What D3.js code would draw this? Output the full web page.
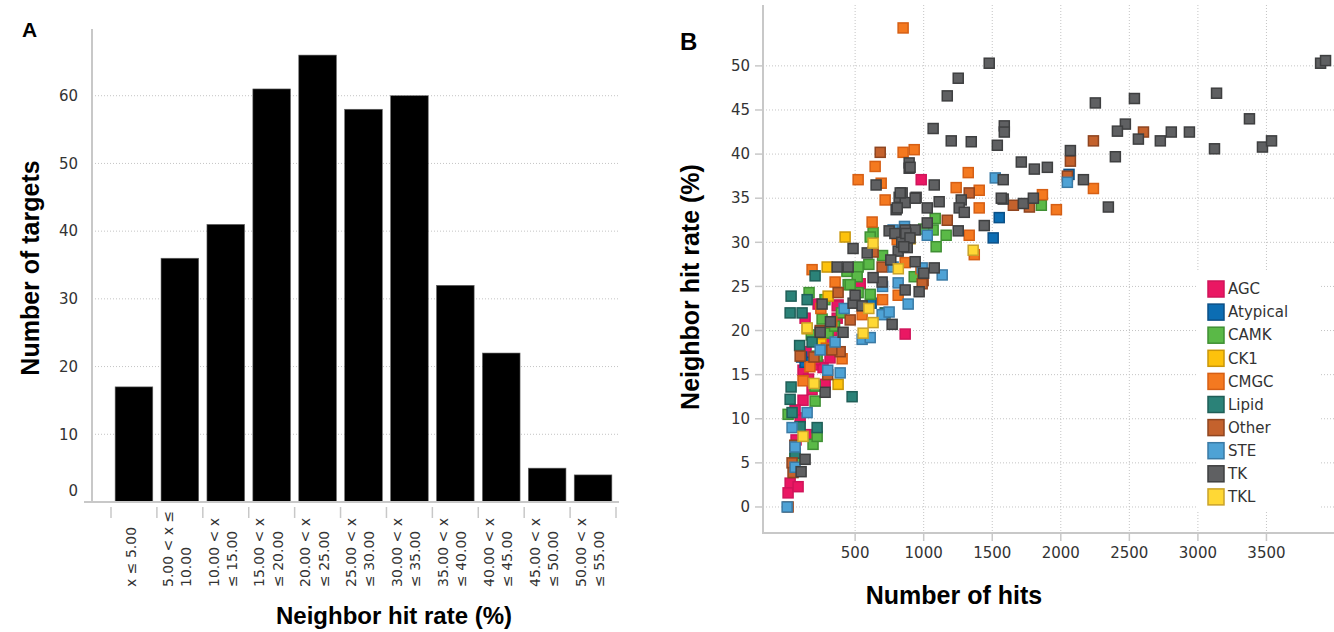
<!DOCTYPE html>
<html>
<head>
<meta charset="utf-8">
<script src="https://cdn.jsdelivr.net/npm/d3@7"></script>
<style>
  body { margin: 0; background: #fff; }
  text { font-family: "DejaVu Sans", sans-serif; }
  .title { font-family: "Liberation Sans", Arial, sans-serif; font-weight: bold; fill: #000; }
  .tick-label { font-size: 15px; fill: #333; }
  .bin-label { font-size: 14px; fill: #333; }
</style>
</head>
<body>
<div id="chart"></div>
<script>
// ---- panel A data: histogram of neighbor hit rate
bins = ["x ≤ 5.00", "5.00 < x ≤\n10.00", "10.00 < x\n≤ 15.00", "15.00 < x\n≤ 20.00", "20.00 < x\n≤ 25.00",
  "25.00 < x\n≤ 30.00", "30.00 < x\n≤ 35.00", "35.00 < x\n≤ 40.00", "40.00 < x\n≤ 45.00", "45.00 < x\n≤ 50.00", "50.00 < x\n≤ 55.00"]
counts = [17, 36, 41, 61, 66, 58, 60, 32, 22, 5, 4]
countTicks = [0, 10, 20, 30, 40, 50, 60]

// ---- panel B data: [number of hits, neighbor hit rate %] per kinase group
agc = [[982,37.1],[376,22.9],[135,21.4],[369,22.8],[369,21.4],[865,19.6],[230,16.1],[120,15.5],[266,15.8],[281,13.9],
  [120,12.1],[99,10.1],[172,8.2],[26,2.7],[11,1.6],[84,2.3],[537,25.3],[186,13.3],[142,17.6],[208,16.7],[317,16.9],
  [62,11.0],[69,7.6],[300,19.0],[160,14.5],[230,23.0],[330,20.0]]
atypical = [[617,23.1],[1507,30.5],[1551,32.8],[135,16.4],[2060,37.7],[110,17.0]]
camk = [[1164,30.8],[1091,29.5],[1069,31.4],[1084,32.7],[631,31.1],[931,26.1],[522,27.2],[515,26.1],[449,25.2],[164,24.3],
  [522,24.3],[610,24.1],[1858,34.2],[259,21.3],[303,19.7],[223,17.1],[208,13.7],[208,12.0],[11,10.5],[193,7.1],[223,8.0],
  [464,25.2],[610,30.6],[1000,31.5],[440,26.7],[600,27.5],[60,5.5],[350,20.5],[400,22.0],[700,28.5],[280,23.5],[180,19.5]]
ck1 = [[427,30.6],[296,27.2],[303,23.9],[376,13.9],[150,20.2],[250,18.5],[901,30.4]]
cmgc = [[850,54.3],[850,40.2],[931,40.5],[646,38.6],[522,37.1],[690,36.7],[1237,36.2],[1325,37.9],[1405,35.9],[719,34.8],
  [1405,33.9],[624,32.3],[1332,30.8],[1369,28.6],[807,30.3],[865,27.7],[814,24.0],[186,26.9],[354,25.5],[1866,35.4],
  [2238,36.1],[1968,33.7],[551,21.8],[405,16.8],[120,14.3],[170,15.9],[250,22.5],[700,23.5],[980,27.0],[290,18.0],[330,21.0]]
lipid = [[208,26.2],[33,23.9],[26,22.0],[113,22.0],[186,18.7],[478,12.5],[33,13.6],[26,12.2],[40,10.7],[99,9.1],
  [223,9.0],[62,6.1],[719,22.0],[95,18.3],[150,23.5]]
other = [[683,40.2],[1332,35.6],[1172,32.5],[697,27.2],[996,25.7],[376,24.3],[631,28.9],[464,21.2],[99,17.1],[391,17.6],
  [40,5.0],[47,3.9],[11,0],[2603,42.5],[2238,41.5],[2070,39.2],[2048,37.5],[1654,34.2],[1771,34.0],[989,25.3],
  [245,20.0],[300,15.0],[60,7.0],[200,17.0],[330,17.8]]
ste = [[1522,37.3],[1026,30.8],[1135,26.3],[777,27.2],[814,25.4],[697,21.8],[748,22.1],[777,31.4],[989,27.1],[887,23.0],
  [551,19.0],[610,19.2],[354,18.7],[245,17.8],[391,15.2],[150,10.7],[40,9.0],[62,6.8],[62,4.5],[4,0],[2048,36.8],
  [860,31.8],[700,25.0],[300,15.5],[420,22.5]]
tk = [[1478,50.3],[1252,48.6],[1172,46.6],[1069,42.9],[1201,41.5],[1347,41.4],[1537,41.0],[894,39.0],[894,38.4],[1077,36.5],
  [653,36.5],[843,35.6],[821,35.1],[945,35.1],[1113,34.6],[799,33.7],[865,34.5],[1026,33.9],[1274,34.8],[1259,33.9],
  [1296,33.4],[1026,32.2],[1442,31.9],[1252,31.3],[938,31.4],[865,31.4],[814,29.0],[880,29.4],[748,31.3],[588,28.8],
  [938,27.8],[1077,27.1],[697,25.5],[865,24.6],[967,24.4],[369,27.2],[449,27.2],[631,26.0],[259,23.0],[485,23.1],
  [551,22.8],[485,29.3],[3895,50.3],[3931,50.6],[3136,46.9],[2537,46.3],[2252,45.8],[3376,44.0],[2471,43.4],[2413,42.6],
  [2566,41.7],[2726,41.5],[2806,42.5],[2938,42.5],[3121,40.6],[3471,40.8],[3537,41.5],[2070,40.4],[2398,39.7],[1712,39.1],
  [1807,38.3],[1902,38.5],[1580,37.1],[2165,37.1],[2347,34.0],[1580,34.9],[1727,34.4],[1800,35.0],[1588,43.2],[1588,42.5],
  [245,19.8],[412,19.8],[770,20.7],[281,13.0],[135,5.4],[106,4.0],[829,35.6],[901,38.5],[1566,35.0],[938,35.0],
  [807,33.9],[790,31.0],[840,30.0],[870,31.0],[900,30.5],[855,29.5],[760,28.0],[1000,26.5],[320,21.0],[500,24.0]]
tkl = [[631,29.9],[631,20.9],[558,19.7],[120,8.0],[1361,29.1],[150,20.3],[815,27.0],[200,14.0],[600,22.5]]

groups = ["AGC", "Atypical", "CAMK", "CK1", "CMGC", "Lipid", "Other", "STE", "TK", "TKL"]
groupData = [agc, atypical, camk, ck1, cmgc, lipid, other, ste, tk, tkl]
groupFill = ["#ea1763", "#0c6db3", "#5ab947", "#fdc20c", "#f47920", "#2b8278", "#c4622d", "#4ea2d5", "#5f6062", "#ffd835"]
groupStroke = ["#d0145a", "#0a4f86", "#3f8f33", "#c9960a", "#d65f14", "#1f5e57", "#8f4520", "#3a7aa5", "#3e3f40", "#c9a22a"]
hitTicks = [500, 1000, 1500, 2000, 2500, 3000, 3500]
rateTicks = [0, 5, 10, 15, 20, 25, 30, 35, 40, 45, 50]

svg = d3.select("#chart").append("svg")
  .attr("width", 1334)
  .attr("height", 632)

gridColor = "#c4c4c4"
axisColor = "#c8c8c8"

// ================= Panel A =================
xA = d3.scaleBand().domain(bins).range([111, 616]).padding(0)
yA = d3.scaleLinear().domain([0, 70]).range([502, 28])

gA = svg.append("g")

// gridlines
gA.selectAll(".gridA")
  .data(countTicks.filter(d => d > 0))
  .join("line")
    .attr("x1", 92).attr("x2", 618)
    .attr("y1", d => yA(d)).attr("y2", d => yA(d))
    .style("stroke", gridColor)
    .style("stroke-width", 1)
    .style("stroke-dasharray", "1,2")

// bars
gA.selectAll(".bar")
  .data(counts)
  .join("rect")
    .attr("x", (d, i) => xA(bins[i]) + xA.bandwidth() * 0.09)
    .attr("width", xA.bandwidth() * 0.82)
    .attr("y", d => yA(d))
    .attr("height", d => yA(0) - yA(d))
    .style("fill", "#000")
    .style("stroke", "#666")
    .style("stroke-width", 0.6)

// axes lines
gA.append("line").attr("x1", 92).attr("x2", 92).attr("y1", 29).attr("y2", 502)
  .style("stroke", axisColor).style("stroke-width", 2)
gA.append("line").attr("x1", 84).attr("x2", 619).attr("y1", 502).attr("y2", 502)
  .style("stroke", axisColor).style("stroke-width", 2)

// x ticks at band boundaries
boundaries = bins.map(b => xA(b)).concat([xA.range()[1]])
gA.selectAll(".tickA")
  .data(boundaries)
  .join("line")
    .attr("x1", d => d).attr("x2", d => d)
    .attr("y1", 507).attr("y2", 518)
    .style("stroke", axisColor).style("stroke-width", 1.5)

// y tick labels
gA.selectAll(".ylabA")
  .data(countTicks)
  .join("text")
    .attr("class", "tick-label")
    .attr("x", 78)
    .attr("y", d => yA(d) - (d === 0 ? 11 : 0))
    .attr("dy", "0.35em")
    .attr("text-anchor", "end")
    .text(d => d)

// x tick labels (rotated, wrapped)
lab = gA.selectAll(".xlabA")
  .data(bins)
  .join("text")
    .attr("class", "bin-label")
    .attr("transform", d => `translate(${xA(d) + xA.bandwidth() / 2 - 3}, 587) rotate(-90)`)
    .attr("text-anchor", "start")
lab.each(function(d) {
  lines = d.split("\n")
  t = d3.select(this)
  lines.forEach((ln, k) => {
    t.append("tspan")
      .attr("x", 0)
      .attr("dy", k === 0 ? ((-(lines.length - 1) / 2) * 1.3 + 0.35) + "em" : "1.3em")
      .text(ln)
  })
})

svg.append("text").attr("class", "title")
  .attr("x", 22).attr("y", 37)
  .style("font-size", "21px")
  .text("A")

svg.append("text").attr("class", "title")
  .attr("transform", "translate(30, 268) rotate(-90)")
  .attr("text-anchor", "middle")
  .attr("dy", "0.35em")
  .style("font-size", "25px")
  .text("Number of targets")

svg.append("text").attr("class", "title")
  .attr("x", 394).attr("y", 624)
  .attr("text-anchor", "middle")
  .style("font-size", "24px")
  .text("Neighbor hit rate (%)")

// ================= Panel B =================
xB = d3.scaleLinear().domain([-172, 4000]).range([763, 1335])
yB = d3.scaleLinear().domain([-2.95, 56.9]).range([533, 5])

gB = svg.append("g")

gB.selectAll(".gridBy")
  .data(rateTicks)
  .join("line")
    .attr("x1", 763).attr("x2", 1334)
    .attr("y1", d => yB(d)).attr("y2", d => yB(d))
    .style("stroke", gridColor)
    .style("stroke-dasharray", "1,2")
gB.selectAll(".gridBx")
  .data(hitTicks)
  .join("line")
    .attr("x1", d => xB(d)).attr("x2", d => xB(d))
    .attr("y1", 5).attr("y2", 533)
    .style("stroke", gridColor)
    .style("stroke-dasharray", "1,2")

// axes lines
gB.append("line").attr("x1", 763).attr("x2", 763).attr("y1", 5).attr("y2", 533)
  .style("stroke", axisColor).style("stroke-width", 2)
gB.append("line").attr("x1", 762).attr("x2", 1334).attr("y1", 533).attr("y2", 533)
  .style("stroke", axisColor).style("stroke-width", 2)

gB.selectAll(".tickBy")
  .data(rateTicks)
  .join("line")
    .attr("x1", 755).attr("x2", 763)
    .attr("y1", d => yB(d)).attr("y2", d => yB(d))
    .style("stroke", axisColor).style("stroke-width", 1.5)
gB.selectAll(".tickBx")
  .data(hitTicks)
  .join("line")
    .attr("x1", d => xB(d)).attr("x2", d => xB(d))
    .attr("y1", 533).attr("y2", 541)
    .style("stroke", axisColor).style("stroke-width", 1.5)

gB.selectAll(".ylabB")
  .data(rateTicks)
  .join("text")
    .attr("class", "tick-label")
    .attr("x", 750)
    .attr("y", d => yB(d))
    .attr("dy", "0.35em")
    .attr("text-anchor", "end")
    .text(d => d)
gB.selectAll(".xlabB")
  .data(hitTicks)
  .join("text")
    .attr("class", "tick-label")
    .attr("x", d => xB(d))
    .attr("y", 558)
    .attr("text-anchor", "middle")
    .text(d => d)

// points
sz = 10
groupData.forEach((pts, gi) => {
  gB.selectAll(".pt" + gi)
    .data(pts)
    .join("rect")
      .attr("x", d => xB(d[0]) - sz / 2)
      .attr("y", d => yB(d[1]) - sz / 2)
      .attr("width", sz)
      .attr("height", sz)
      .style("fill", groupFill[gi])
      .style("stroke", groupStroke[gi])
      .style("stroke-width", 1.5)
})

// legend
leg = gB.append("g")
leg.append("rect")
  .attr("x", 1196).attr("y", 272).attr("width", 124).attr("height", 238)
  .style("fill", "#fff")
leg.selectAll(".legsw")
  .data(groups)
  .join("rect")
    .attr("x", 1208)
    .attr("y", (d, i) => 281 + i * 23.1)
    .attr("width", 16).attr("height", 16)
    .style("fill", (d, i) => groupFill[i])
    .style("stroke", (d, i) => groupStroke[i])
    .style("stroke-width", 1.5)
leg.selectAll(".legtx")
  .data(groups)
  .join("text")
    .attr("class", "tick-label")
    .attr("x", 1228)
    .attr("y", (d, i) => 289 + i * 23.1)
    .attr("dy", "0.35em")
    .text(d => d)

svg.append("text").attr("class", "title")
  .attr("x", 680).attr("y", 50)
  .style("font-size", "24px")
  .text("B")

svg.append("text").attr("class", "title")
  .attr("transform", "translate(690, 287) rotate(-90)")
  .attr("text-anchor", "middle")
  .attr("dy", "0.35em")
  .style("font-size", "25px")
  .text("Neighbor hit rate (%)")

svg.append("text").attr("class", "title")
  .attr("x", 954).attr("y", 604)
  .attr("text-anchor", "middle")
  .style("font-size", "25px")
  .text("Number of hits")
</script>
</body>
</html>
